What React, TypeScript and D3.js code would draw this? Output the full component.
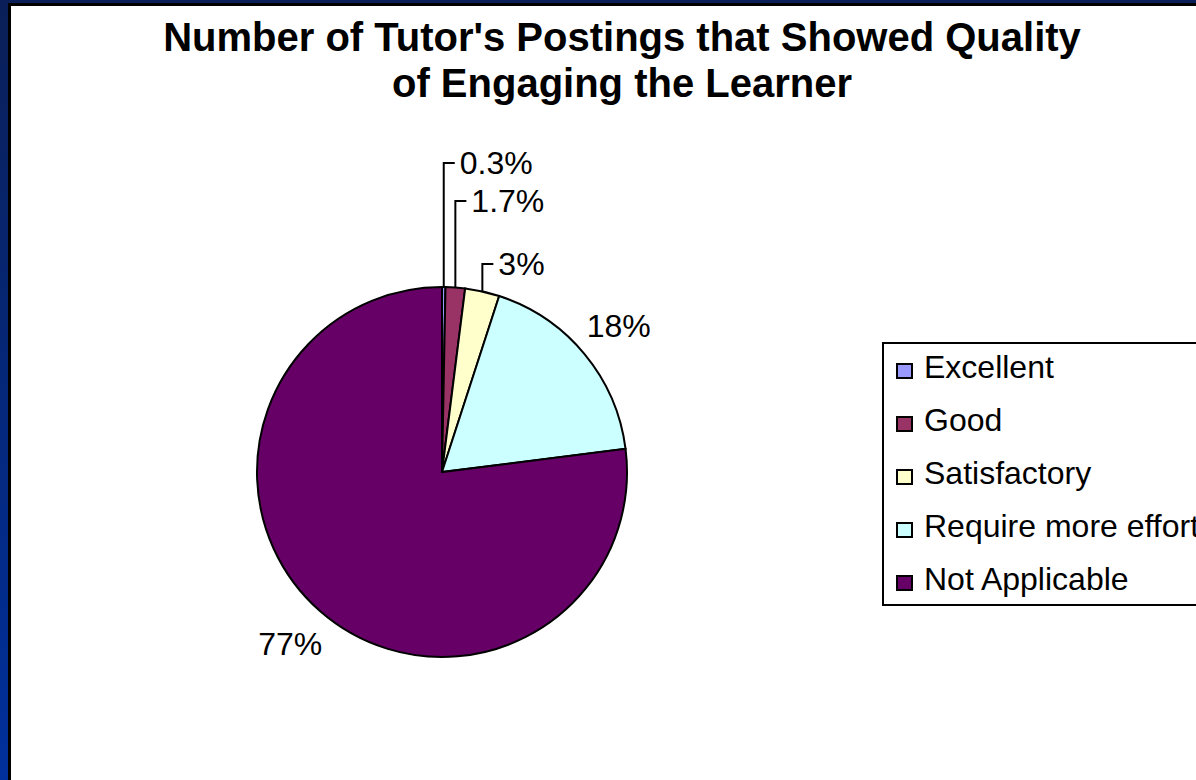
import React from "react";
import * as d3 from "d3";

const categories = ["Excellent", "Good", "Satisfactory", "Require more effort", "Not Applicable"];
const values = [0.3, 1.7, 3, 18, 77];
const labels = ["0.3%", "1.7%", "3%", "18%", "77%"];
const colors = ["#9999FF", "#993366", "#FFFFCC", "#CCFFFF", "#660066"];
const titleLines = ["Number of Tutor's Postings that Showed Quality", "of Engaging the Learner"];

const W = 1196;
const H = 780;
const cx = 442;
const cy = 472;
const R = 185;
const FONT = "'Liberation Sans', Arial, sans-serif";
// leader label heights for small slices (layout)
const leaderY: Record<number, number> = { 0: 163, 1: 201, 2: 264 };

export default function App() {
  const pie = d3.pie<number>().sort(null).value((d) => d);
  const arcs = pie(values);
  const arc = d3.arc<d3.PieArcDatum<number>>().innerRadius(0).outerRadius(R);
  const labelArc = d3.arc<d3.PieArcDatum<number>>().innerRadius(R * 1.24).outerRadius(R * 1.24);

  const legendX = 883;
  const legendY = 343;
  const rowH = 53;

  return (
    <svg
      width={W}
      height={H}
      style={{ position: "fixed", left: 0, top: 0, display: "block" }}
      fontFamily={FONT}
    >
      <defs>
        <linearGradient id="bg" x1="0" y1="0" x2="0" y2="1">
          <stop offset="0" stopColor="#0a1f58" />
          <stop offset="1" stopColor="#00309c" />
        </linearGradient>
      </defs>
      <rect x={0} y={0} width={W} height={H} fill="url(#bg)" />
      <rect x={8} y={3} width={W} height={H} fill="#000" />
      <rect x={11} y={6} width={W} height={H} fill="#fff" />

      {titleLines.map((t, i) => (
        <text
          key={i}
          x={622}
          y={51 + i * 46}
          textAnchor="middle"
          fontSize={40}
          fontWeight="bold"
          fill="#000"
        >
          {t}
        </text>
      ))}

      <g transform={`translate(${cx},${cy})`}>
        {arcs.map((a, i) => (
          <path key={i} d={arc(a) || ""} fill={colors[i]} stroke="#000" strokeWidth={2} />
        ))}
      </g>

      {arcs.map((a, i) => {
        const mid = (a.startAngle + a.endAngle) / 2;
        if (leaderY[i] !== undefined) {
          const x0 = cx + R * Math.sin(mid);
          const y0 = cy - R * Math.cos(mid);
          const ly = leaderY[i];
          return (
            <g key={i}>
              <path
                d={`M${x0},${y0}V${ly}H${x0 + 11}`}
                fill="none"
                stroke="#000"
                strokeWidth={2}
              />
              <text x={x0 + 16} y={ly} dy="0.35em" fontSize={32} fill="#000">
                {labels[i]}
              </text>
            </g>
          );
        }
        const [lx, ly] = labelArc.centroid(a);
        return (
          <text
            key={i}
            x={cx + lx}
            y={cy + ly}
            dy="0.35em"
            textAnchor="middle"
            fontSize={32}
            fill="#000"
          >
            {labels[i]}
          </text>
        );
      })}

      <rect
        x={legendX}
        y={legendY}
        width={340}
        height={262}
        fill="#fff"
        stroke="#000"
        strokeWidth={2}
      />
      {categories.map((c, i) => {
        const yc = legendY + 24 + i * rowH;
        return (
          <g key={c}>
            <rect x={897} y={yc - 3} width={15} height={14} fill={colors[i]} stroke="#000" strokeWidth={2} />
            <text x={924} y={yc} dy="0.35em" fontSize={32} fill="#000">
              {c}
            </text>
          </g>
        );
      })}
    </svg>
  );
}
